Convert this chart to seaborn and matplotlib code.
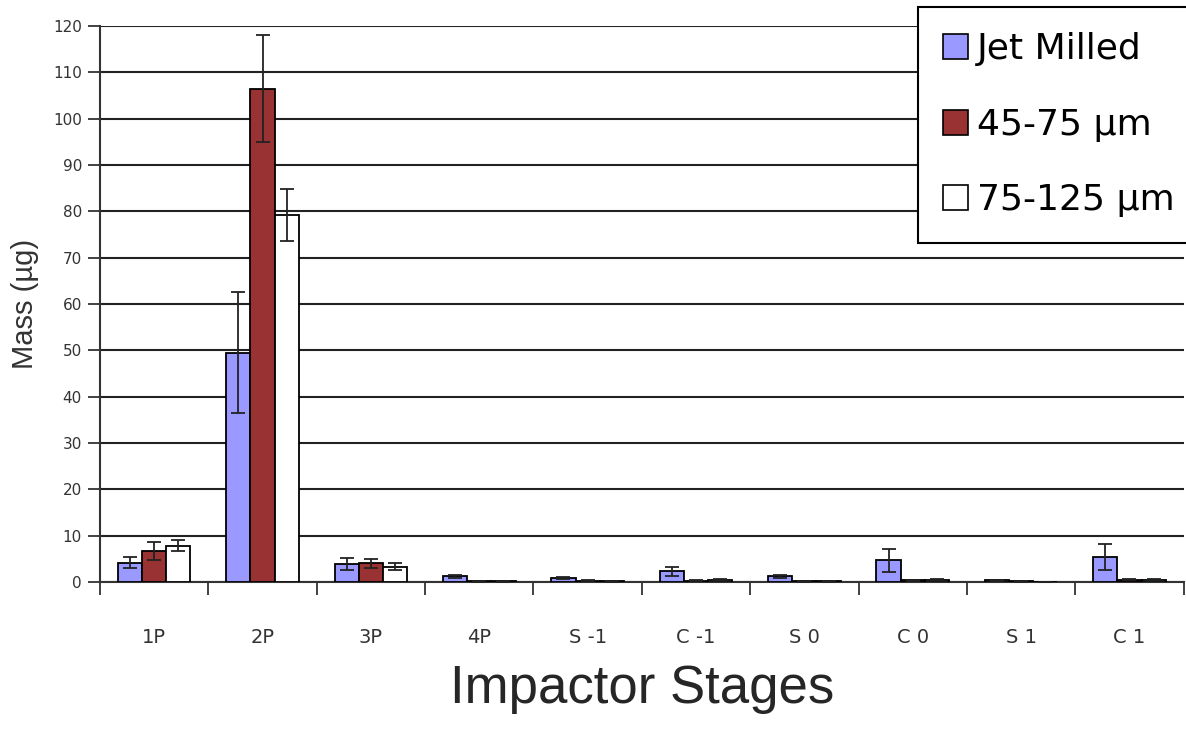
import numpy as np
import pandas as pd
import matplotlib
matplotlib.use("Agg")
import matplotlib.pyplot as plt
import seaborn as sns

stages = ["1P", "2P", "3P", "4P", "S -1", "C -1", "S 0", "C 0", "S 1", "C 1"]
series = ["Jet Milled", "45-75 µm", "75-125 µm"]
jet_milled = [4.2, 49.5, 3.8, 1.2, 0.8, 2.3, 1.2, 4.7, 0.4, 5.3]
jet_milled_err = [1.1, 13.0, 1.3, 0.3, 0.2, 0.9, 0.3, 2.5, 0.1, 2.8]
mid_size = [6.7, 106.5, 4.0, 0.2, 0.3, 0.3, 0.2, 0.4, 0.2, 0.5]
mid_size_err = [2.0, 11.6, 1.0, 0.1, 0.1, 0.1, 0.1, 0.1, 0.1, 0.1]
large_size = [7.8, 79.2, 3.3, 0.2, 0.2, 0.5, 0.2, 0.5, 0.0, 0.5]
large_size_err = [1.2, 5.6, 0.8, 0.1, 0.1, 0.1, 0.1, 0.1, 0.0, 0.1]
colors = ["#9999ff", "#993333", "#ffffff"]

values = [jet_milled, mid_size, large_size]
errors = [jet_milled_err, mid_size_err, large_size_err]
df = pd.DataFrame({
    "stage": np.tile(stages, 3),
    "series": np.repeat(series, len(stages)),
    "mass": np.concatenate(values),
    "err": np.concatenate(errors),
})

sns.set_style("white")
plt.rcParams["font.family"] = ["DejaVu Sans"]

fig = plt.figure(figsize=(11.86, 7.36), dpi=100)
ax = fig.add_axes([100/1186, 1-582/736, 1-100/1186 - 0.002, (582-26)/736])

sns.barplot(data=df, x="stage", y="mass", hue="series", order=stages, hue_order=series,
            palette=colors, errorbar=None, width=0.67, edgecolor="black", linewidth=1.3,
            saturation=1, ax=ax, zorder=3)

# error bars placed at the bar centres produced by seaborn
for cont, err in zip(ax.containers, errors):
    xs = [p.get_x() + p.get_width()/2 for p in cont.patches]
    ys = [p.get_height() for p in cont.patches]
    ax.errorbar(xs, ys, yerr=err, fmt="none", ecolor="#222222", elinewidth=1.3,
                capsize=5, capthick=1.3, zorder=4)

ax.set_ylim(0, 120)
ax.set_xlim(-0.5, len(stages) - 0.5)
ax.set_yticks(np.arange(0, 121, 10))
ax.yaxis.grid(True, color="#222222", linewidth=1.5, zorder=0)
ax.xaxis.grid(False)
ax.set_axisbelow(True)

# ticks at category boundaries, labels centred
ax.set_xticks(np.arange(-0.5, len(stages), 1.0))
ax.set_xticklabels([])
ax.set_xticks(np.arange(len(stages)), minor=True)
ax.set_xticklabels(stages, minor=True, fontsize=14, color="#333333")
ax.tick_params(axis="x", which="major", direction="out", length=9, width=1.3,
               color="#333333", bottom=True)
ax.tick_params(axis="x", which="minor", length=0, pad=33)
ax.tick_params(axis="y", direction="out", length=9, width=1.3, color="#333333",
               left=True, labelsize=11, labelcolor="#333333", pad=4)

for s in ["left", "bottom"]:
    ax.spines[s].set_color("#333333")
    ax.spines[s].set_linewidth(1.5)
ax.spines["top"].set_visible(False)
ax.spines["right"].set_visible(False)

ax.set_xlabel("Impactor Stages", fontsize=38, family="Liberation Sans", labelpad=12)
ax.set_ylabel("Mass (µg)", fontsize=21, family="Liberation Sans", color="#333333", labelpad=10)

leg = ax.legend(loc="upper right", bbox_to_anchor=(1.012, 1-7/736),
                bbox_transform=fig.transFigure, fontsize=26, frameon=True,
                fancybox=False, edgecolor="black", framealpha=1,
                handlelength=0.7, handleheight=0.7, handletextpad=0.25,
                labelspacing=1.15, borderpad=0.7, borderaxespad=0)
leg.get_frame().set_linewidth(1.5)
for t in leg.get_texts():
    t.set_color("black")
for h in leg.legend_handles:
    h.set_edgecolor("black")
    h.set_linewidth(1.2)

fig.savefig("out.png", dpi=100)
